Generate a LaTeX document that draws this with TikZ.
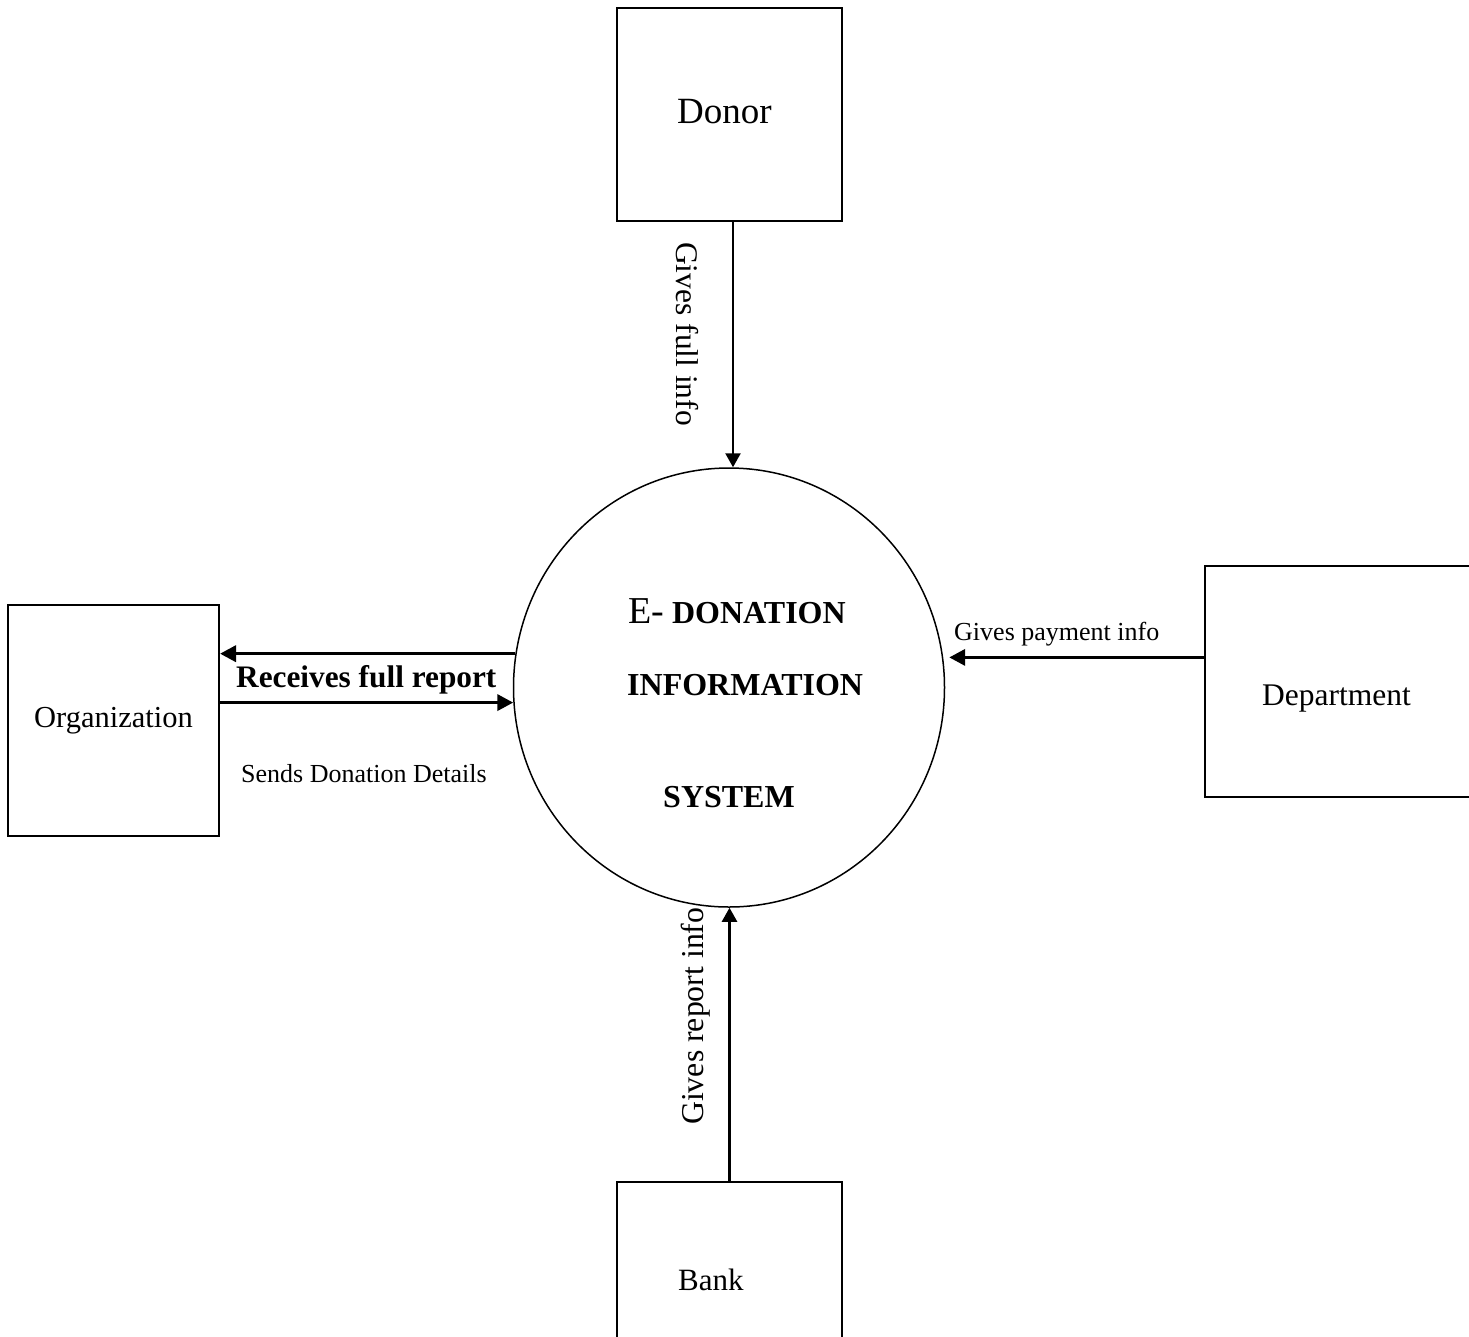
\documentclass[tikz,border=0pt]{standalone}
\usepackage{fontspec}
\setmainfont{Liberation Serif}
\usetikzlibrary{arrows.meta,shapes.geometric}

\tikzset{
  entity/.style={draw, line width=2pt, inner sep=0pt},
  process/.style={draw, ellipse, line width=1.5pt, inner sep=0pt, minimum width=431pt, minimum height=439pt},
  flow/.style={line width=2.4pt, -{Triangle[length=14pt,width=15pt]}},
  heavyflow/.style={line width=3.6pt, -{Triangle[length=16pt,width=16pt]}},
  lbl/.style={inner sep=0pt, anchor=base west},
}

\newcommand{\fsz}[1]{\fontsize{#1}{#1}\selectfont}

\begin{document}
\begin{tikzpicture}[x=1pt,y=-1pt]
  \useasboundingbox (0,0) rectangle (1469,1336);
  \clip (0,0) rectangle (1469,1336);

  % external entities
  \node[entity, minimum width=225pt, minimum height=213pt] (donor) at (729.5,114.5) {};
  \node[lbl, font=\fsz{37}] (donorname) at (677,123) {Donor};
  \node[entity, minimum width=211pt, minimum height=231pt, font=\fsz{30.5}] (org) at (113.5,720.5) {Organization};
  \node[entity, minimum width=280pt, minimum height=231pt] (dept) at (1345,681.5) {};
  \node[entity, minimum width=225pt, minimum height=200pt] (bank) at (729.5,1282) {};
  \node[lbl, font=\fsz{31.5}] (deptname) at (1262,705) {Department};
  \node[lbl, font=\fsz{31}] (bankname) at (678,1290) {Bank};

  % central process
  \node[process] (sys) at (729,687.5) {};
  \node[lbl, font=\fsz{32}\bfseries] (t1) at (628,623) {{\mdseries\fsz{38}E-} DONATION};
  \node[lbl, font=\fsz{32}\bfseries] (t2) at (627,695) {INFORMATION};
  \node[lbl, font=\fsz{32}\bfseries] (t3) at (663,807) {SYSTEM};

  % data flows
  \draw[flow] ([xshift=3.5pt]donor.south) -- ([xshift=3.5pt]donor.south |- sys.north);
  \draw[heavyflow] (sys.171) -- (sys.171 -| org.east);
  \draw[heavyflow] (sys.184 -| org.east) -- (sys.184);
  \draw[heavyflow, shorten >=6pt] (dept.west |- sys.8) -- (sys.8);
  \draw[flow] (bank.north) -- (bank.north |- sys.south);

  % flow labels
  \node[lbl, font=\fsz{31.5}, rotate=-90] (l1) at (676,242) {Gives full info};
  \node[lbl, font=\fsz{31.3}\bfseries] (l2) at (236,687) {Receives full report};
  \node[lbl, font=\fsz{26}] (l3) at (241,782) {Sends Donation Details};
  \node[lbl, font=\fsz{26}] (l4) at (954,640) {Gives payment info};
  \node[lbl, font=\fsz{31.8}, rotate=90] (l5) at (703,1125) {Gives report info};
\end{tikzpicture}
\end{document}
